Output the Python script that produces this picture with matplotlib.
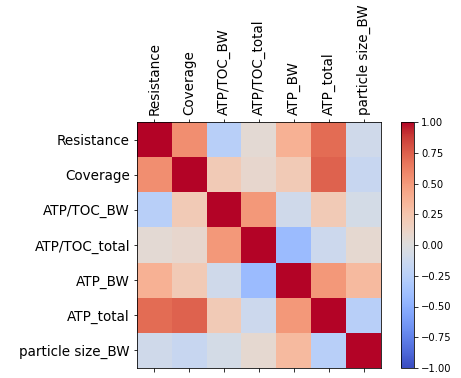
import numpy as np
import matplotlib

matplotlib.use('Agg')
import matplotlib.pyplot as plt

labels = ["Resistance", "Coverage", "ATP/TOC_BW", "ATP/TOC_total",
          "ATP_BW", "ATP_total", "particle size_BW"]

# pairwise correlations (symmetric matrix)
corr = np.array([
    [1.00, 0.55, -0.25, 0.05, 0.37, 0.70, -0.10],
    [0.55, 1.00, 0.20, 0.08, 0.20, 0.74, -0.15],
    [-0.25, 0.20, 1.00, 0.50, -0.10, 0.20, -0.07],
    [0.05, 0.08, 0.50, 1.00, -0.42, -0.12, 0.07],
    [0.37, 0.20, -0.10, -0.42, 1.00, 0.50, 0.32],
    [0.70, 0.74, 0.20, -0.12, 0.50, 1.00, -0.25],
    [-0.10, -0.15, -0.07, 0.07, 0.32, -0.25, 1.00],
])

cbar_ticks = [-1.0, -0.75, -0.5, -0.25, 0.0, 0.25, 0.5, 0.75, 1.0]


def main():
    fig = plt.figure(figsize=(461 / 72, 378 / 72), dpi=72)
    ax = fig.add_axes([137 / 461, 10 / 378, 244 / 461, 246 / 378])
    cax = fig.add_axes([401 / 461, 10 / 378, 13 / 461, 246 / 378])

    im = ax.matshow(corr, cmap='coolwarm', vmin=-1, vmax=1, aspect='auto')
    ax.set_xticks(range(len(labels)))
    ax.set_xticklabels(labels, rotation=90, fontsize=13.5)
    ax.set_yticks(range(len(labels)))
    ax.set_yticklabels(labels, fontsize=13.5)

    cb = fig.colorbar(im, cax=cax, ticks=cbar_ticks)
    cb.ax.tick_params(labelsize=10)
    cb.ax.set_yticklabels([f"{t:.2f}".replace("-", "\u2212") for t in cbar_ticks])

    fig.savefig("out.png", dpi=72)
    plt.close(fig)


if __name__ == "__main__":
    main()
